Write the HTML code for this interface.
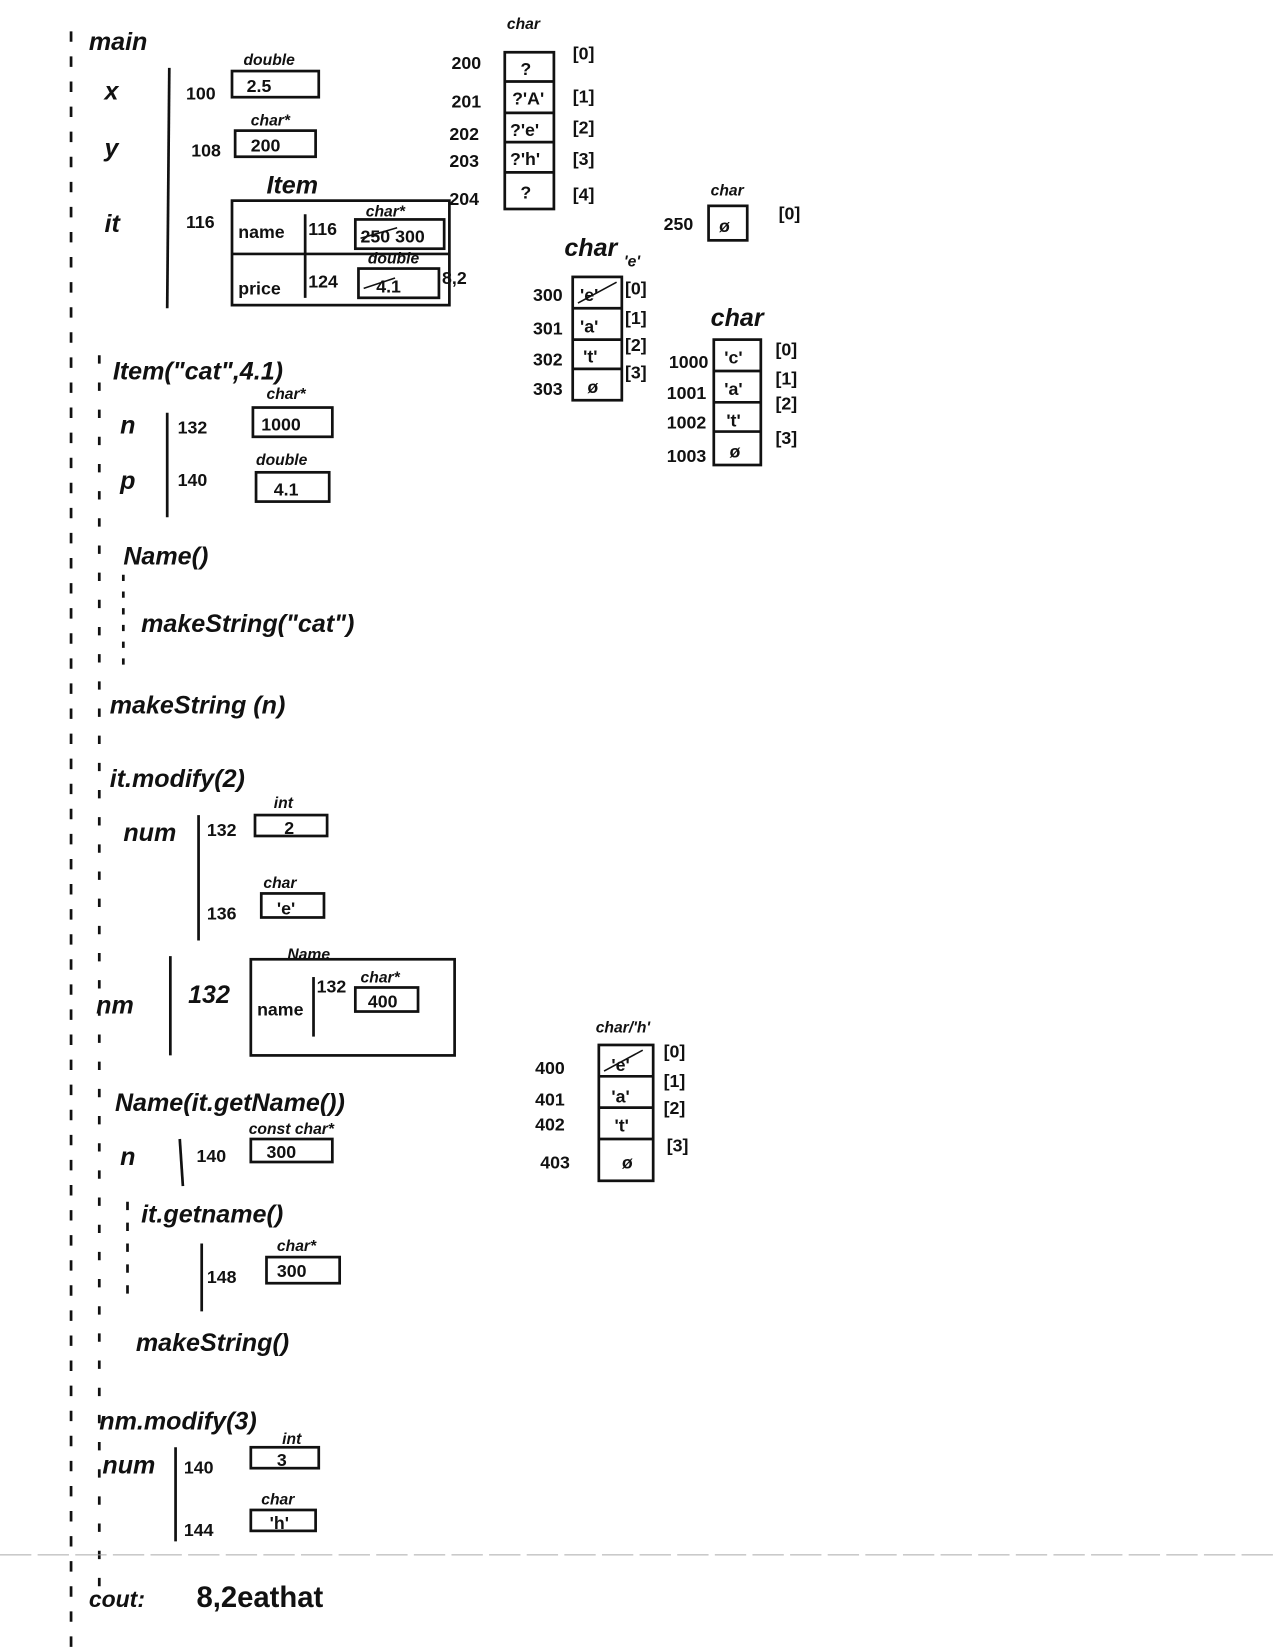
<!DOCTYPE html>
<html><head><meta charset="utf-8"><style>
html,body{margin:0;padding:0;background:#fff;}
svg{display:block}
text{font-family:"Liberation Sans",sans-serif;fill:#111;font-weight:bold}
.h{font-size:24px;font-style:italic}
.s{font-size:17px}
.t{font-size:15px;font-style:italic}
</style></head><body>
<svg width="1275" height="1650" viewBox="0 0 1220 1579" preserveAspectRatio="none" xmlns="http://www.w3.org/2000/svg">
<g stroke="#111" stroke-width="2.6" fill="none">
<line x1="68" y1="30" x2="68" y2="1579" stroke-dasharray="10 14"/>
<line x1="162" y1="65" x2="160" y2="295"/>
<rect x="222" y="68" width="83" height="25"/>
<rect x="225" y="125" width="77" height="25"/>
<rect x="222" y="192" width="208" height="100"/>
<line x1="222" y1="243" x2="430" y2="243"/>
<line x1="292" y1="205" x2="292" y2="285"/>
<rect x="340" y="210" width="85" height="28"/>
<rect x="343" y="257" width="77" height="28"/>
<rect x="483" y="50" width="47" height="150"/>
<line x1="483" y1="78" x2="530" y2="78"/><line x1="483" y1="108" x2="530" y2="108"/>
<line x1="483" y1="136" x2="530" y2="136"/><line x1="483" y1="165" x2="530" y2="165"/>
<rect x="678" y="197" width="37" height="33"/>
<rect x="548" y="265" width="47" height="118"/>
<line x1="548" y1="295" x2="595" y2="295"/><line x1="548" y1="325" x2="595" y2="325"/><line x1="548" y1="353" x2="595" y2="353"/>
<rect x="683" y="325" width="45" height="120"/>
<line x1="683" y1="355" x2="728" y2="355"/><line x1="683" y1="385" x2="728" y2="385"/><line x1="683" y1="413" x2="728" y2="413"/>
<line x1="95" y1="340" x2="95" y2="1520" stroke-dasharray="8 18"/>
<line x1="160" y1="395" x2="160" y2="495"/>
<rect x="242" y="390" width="76" height="28"/>
<rect x="245" y="452" width="70" height="28"/>
<line x1="118" y1="550" x2="118" y2="640" stroke-dasharray="6 10"/>
<line x1="190" y1="780" x2="190" y2="900"/>
<rect x="244" y="780" width="69" height="20"/>
<rect x="250" y="855" width="60" height="23"/>
<line x1="163" y1="915" x2="163" y2="1010"/>
<rect x="240" y="918" width="195" height="92"/>
<line x1="300" y1="935" x2="300" y2="992"/>
<rect x="340" y="945" width="60" height="23"/>
<rect x="573" y="1000" width="52" height="130"/>
<line x1="573" y1="1030" x2="625" y2="1030"/><line x1="573" y1="1060" x2="625" y2="1060"/><line x1="573" y1="1090" x2="625" y2="1090"/>
<line x1="172" y1="1090" x2="175" y2="1135"/>
<rect x="240" y="1090" width="78" height="22"/>
<line x1="122" y1="1150" x2="122" y2="1250" stroke-dasharray="8 12"/>
<line x1="193" y1="1190" x2="193" y2="1255"/>
<rect x="255" y="1203" width="70" height="25"/>
<line x1="168" y1="1385" x2="168" y2="1475"/>
<rect x="240" y="1385" width="65" height="20"/>
<rect x="240" y="1445" width="62" height="20"/>
<line x1="0" y1="1488" x2="1220" y2="1488" stroke="#aaa" stroke-width="1" stroke-dasharray="30 6"/>
<line x1="345" y1="228" x2="380" y2="218" stroke-width="1.5"/>
<line x1="348" y1="276" x2="378" y2="266" stroke-width="1.5"/>
<line x1="553" y1="290" x2="590" y2="270" stroke-width="1.5"/>
<line x1="578" y1="1025" x2="615" y2="1005" stroke-width="1.5"/>
</g>
<text class="h" x="85" y="48">main</text>
<text class="h" x="100" y="95">x</text>
<text class="h" x="100" y="150">y</text>
<text class="h" x="100" y="222">it</text>
<text class="t" x="233" y="62">double</text>
<text class="s" x="178" y="95">100</text>
<text class="s" x="236" y="88">2.5</text>
<text class="t" x="240" y="120">char*</text>
<text class="s" x="183" y="150">108</text>
<text class="s" x="240" y="145">200</text>
<text class="h" x="255" y="185">Item</text>
<text class="s" x="178" y="218">116</text>
<text class="s" x="228" y="228">name</text>
<text class="s" x="295" y="225">116</text>
<text class="t" x="350" y="207">char*</text>
<text class="s" x="345" y="232">250 300</text>
<text class="t" x="352" y="252">double</text>
<text class="s" x="228" y="282">price</text>
<text class="s" x="295" y="275">124</text>
<text class="s" x="360" y="280">4.1</text>
<text class="s" x="423" y="272">8,2</text>
<text class="t" x="485" y="28">char</text>
<text class="s" x="432" y="66">200</text><text class="s" x="432" y="103">201</text>
<text class="s" x="430" y="134">202</text><text class="s" x="430" y="160">203</text><text class="s" x="430" y="196">204</text>
<text class="s" x="498" y="72">?</text><text class="s" x="490" y="100">?'A'</text><text class="s" x="488" y="130">?'e'</text>
<text class="s" x="488" y="158">?'h'</text><text class="s" x="498" y="190">?</text>
<text class="s" x="548" y="57">[0]</text><text class="s" x="548" y="98">[1]</text><text class="s" x="548" y="128">[2]</text>
<text class="s" x="548" y="158">[3]</text><text class="s" x="548" y="192">[4]</text>
<text class="t" x="680" y="187">char</text>
<text class="s" x="635" y="220">250</text>
<text class="s" x="688" y="222">ø</text>
<text class="s" x="745" y="210">[0]</text>
<text class="h" x="540" y="245">char</text>
<text class="t" x="597" y="255">'e'</text>
<text class="s" x="510" y="288">300</text><text class="s" x="510" y="320">301</text>
<text class="s" x="510" y="350">302</text><text class="s" x="510" y="378">303</text>
<text class="s" x="555" y="288">'e'</text><text class="s" x="555" y="318">'a'</text><text class="s" x="558" y="347">'t'</text><text class="s" x="562" y="376">ø</text>
<text class="s" x="598" y="282">[0]</text><text class="s" x="598" y="310">[1]</text><text class="s" x="598" y="336">[2]</text><text class="s" x="598" y="362">[3]</text>
<text class="h" x="680" y="312">char</text>
<text class="s" x="640" y="352">1000</text><text class="s" x="638" y="382">1001</text>
<text class="s" x="638" y="410">1002</text><text class="s" x="638" y="442">1003</text>
<text class="s" x="693" y="348">'c'</text><text class="s" x="693" y="378">'a'</text><text class="s" x="695" y="408">'t'</text><text class="s" x="698" y="438">ø</text>
<text class="s" x="742" y="340">[0]</text><text class="s" x="742" y="368">[1]</text><text class="s" x="742" y="392">[2]</text><text class="s" x="742" y="425">[3]</text>
<text class="h" x="108" y="363">Item("cat",4.1)</text>
<text class="t" x="255" y="382">char*</text>
<text class="h" x="115" y="415">n</text>
<text class="s" x="170" y="415">132</text>
<text class="s" x="250" y="412">1000</text>
<text class="t" x="245" y="445">double</text>
<text class="h" x="115" y="468">p</text>
<text class="s" x="170" y="465">140</text>
<text class="s" x="262" y="474">4.1</text>
<text class="h" x="118" y="540">Name()</text>
<text class="h" x="135" y="605">makeString("cat")</text>
<text class="h" x="105" y="683">makeString (n)</text>
<text class="h" x="105" y="753">it.modify(2)</text>
<text class="t" x="262" y="773">int</text>
<text class="h" x="118" y="805">num</text>
<text class="s" x="198" y="800">132</text>
<text class="s" x="272" y="798">2</text>
<text class="t" x="252" y="850">char</text>
<text class="s" x="198" y="880">136</text>
<text class="s" x="265" y="875">'e'</text>
<text class="t" x="275" y="918">Name</text>
<text class="h" x="92" y="970">nm</text>
<text class="h" x="180" y="960">132</text>
<text class="s" x="246" y="972">name</text>
<text class="s" x="303" y="950">132</text>
<text class="t" x="345" y="940">char*</text>
<text class="s" x="352" y="964">400</text>
<text class="t" x="570" y="988">char/'h'</text>
<text class="s" x="512" y="1028">400</text><text class="s" x="512" y="1058">401</text>
<text class="s" x="512" y="1082">402</text><text class="s" x="517" y="1118">403</text>
<text class="s" x="585" y="1025">'e'</text><text class="s" x="585" y="1055">'a'</text><text class="s" x="588" y="1083">'t'</text><text class="s" x="595" y="1118">ø</text>
<text class="s" x="635" y="1012">[0]</text><text class="s" x="635" y="1040">[1]</text><text class="s" x="635" y="1066">[2]</text><text class="s" x="638" y="1102">[3]</text>
<text class="h" x="110" y="1063">Name(it.getName())</text>
<text class="t" x="238" y="1085">const char*</text>
<text class="h" x="115" y="1115">n</text>
<text class="s" x="188" y="1112">140</text>
<text class="s" x="255" y="1108">300</text>
<text class="h" x="135" y="1170">it.getname()</text>
<text class="t" x="265" y="1197">char*</text>
<text class="s" x="198" y="1228">148</text>
<text class="s" x="265" y="1222">300</text>
<text class="h" x="130" y="1293">makeString()</text>
<text class="h" x="95" y="1368">nm.modify(3)</text>
<text class="t" x="270" y="1382">int</text>
<text class="h" x="98" y="1410">num</text>
<text class="s" x="176" y="1410">140</text>
<text class="s" x="265" y="1403">3</text>
<text class="t" x="250" y="1440">char</text>
<text class="s" x="176" y="1470">144</text>
<text class="s" x="258" y="1463">'h'</text>
<text class="h" x="85" y="1538" style="font-size:22px">cout:</text>
<text class="h" x="188" y="1538" style="font-size:28px;font-style:normal">8,2eathat</text>
</svg>
</body></html>
